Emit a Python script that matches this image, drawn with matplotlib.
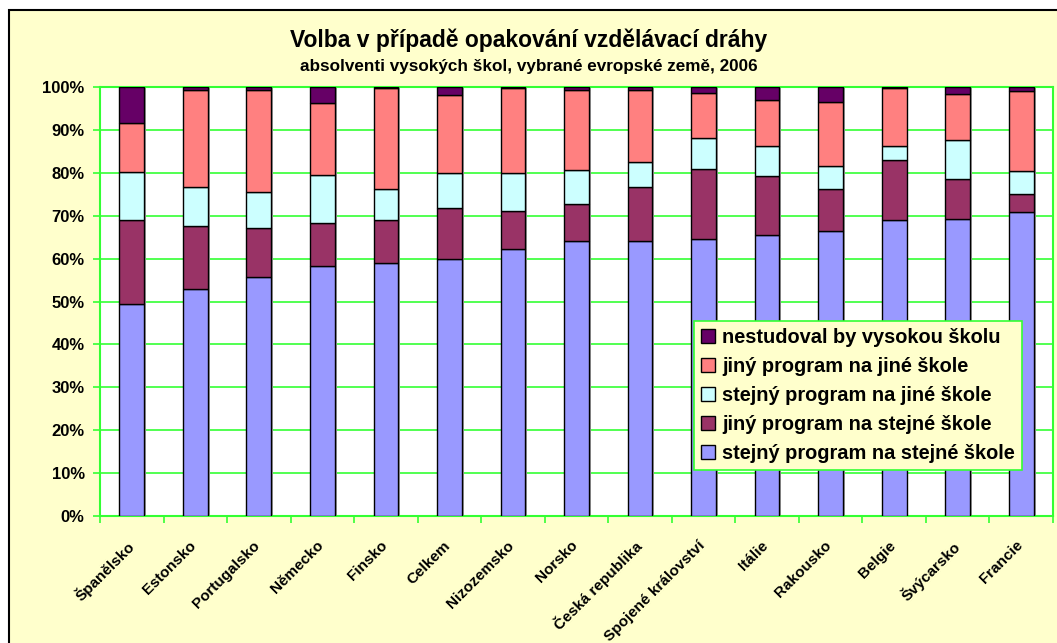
import matplotlib.pyplot as plt
from matplotlib.patches import Rectangle
from matplotlib.transforms import ScaledTranslation
import numpy as np

plt.rcParams['font.family'] = ['Liberation Sans', 'DejaVu Sans']

countries = ['Španělsko', 'Estonsko', 'Portugalsko', 'Německo', 'Finsko', 'Celkem',
             'Nizozemsko', 'Norsko', 'Česká republika', 'Spojené království', 'Itálie',
             'Rakousko', 'Belgie', 'Švýcarsko', 'Francie']

# podily v procentech
stejny_stejna = [49.5, 52.9, 55.6, 58.2, 58.9, 60.0, 62.2, 64.1, 64.2, 64.6, 65.5, 66.4, 69.0, 69.3, 70.9]
jiny_stejna = [19.5, 14.7, 11.5, 10.0, 10.1, 11.7, 8.9, 8.7, 12.6, 16.3, 13.8, 9.9, 14.1, 9.2, 4.1]
stejny_jina = [11.2, 9.2, 8.4, 11.4, 7.3, 8.3, 8.9, 7.8, 5.8, 7.2, 6.9, 5.3, 3.2, 9.2, 5.4]
jiny_jina = [11.4, 22.5, 23.7, 16.6, 23.4, 18.1, 19.7, 18.6, 16.8, 10.6, 10.7, 14.8, 13.5, 10.7, 18.6]
nestudoval = [8.4, 0.7, 0.8, 3.8, 0.3, 1.9, 0.3, 0.8, 0.6, 1.3, 3.1, 3.6, 0.2, 1.6, 1.0]

series = [
    ('stejný program na stejné škole', stejny_stejna, '#9999FF'),
    ('jiný program na stejné škole', jiny_stejna, '#993366'),
    ('stejný program na jiné škole', stejny_jina, '#CCFFFF'),
    ('jiný program na jiné škole', jiny_jina, '#FF8080'),
    ('nestudoval by vysokou školu', nestudoval, '#660066'),
]

fig = plt.figure(figsize=(10.57, 6.43), dpi=100)
fig.patch.set_facecolor('white')
fig.patches.append(Rectangle((9 / 1057, -0.1), 1.2, 1 - 10 / 643 + 0.1, transform=fig.transFigure,
                             facecolor='#FFFFCC', edgecolor='black', linewidth=1.5, zorder=-10))

ax = fig.add_axes([100 / 1057, 1 - 516 / 643, 953 / 1057, 429 / 643])
ax.set_zorder(1)
ax.set_facecolor('white')

x = np.arange(len(countries))
bottom = np.zeros(len(countries))
handles = []
for label, vals, color in series:
    vals = np.array(vals)
    # stin vpravo od sloupce
    ax.bar(x + 0.03, vals, 0.39, bottom=bottom, color='#A0A0A0', linewidth=0, zorder=2)
    b = ax.bar(x, vals, 0.39, bottom=bottom, color=color, edgecolor='black', linewidth=1.0,
               label=label, zorder=3)
    handles.append(b)
    bottom += vals

ax.set_xlim(-0.5, len(countries) - 0.5)
ax.set_ylim(0, 100)
ax.set_yticks(range(0, 101, 10))
ax.set_yticklabels([f'{v}%' for v in range(0, 101, 10)], fontsize=12, fontweight='bold')
ax.yaxis.grid(True, color='#33FF33', linewidth=1.2, zorder=1)
ax.set_axisbelow(True)

ax.set_xticks(x)
ax.set_xticklabels(countries, rotation=45, ha='right', va='top', rotation_mode='anchor',
                   fontsize=11, fontweight='bold')
ax.tick_params(axis='x', length=0, pad=16)
shift = ScaledTranslation(-6 / 100, 0, fig.dpi_scale_trans)
for t in ax.get_xticklabels():
    t.set_transform(t.get_transform() + shift)
ax.set_xticks(np.arange(-0.5, len(countries)), minor=True)
ax.tick_params(axis='x', which='minor', length=5, color='#33FF33', width=1.2)
ax.tick_params(axis='y', length=5, color='#33FF33', width=1.2, pad=6)
for s in ax.spines.values():
    s.set_color('#33FF33')
    s.set_linewidth(1.5)

fig.text(0.5, 1 - 40 / 643, 'Volba v případě opakování vzdělávací dráhy', ha='center', va='center',
         fontsize=16.5, fontweight='bold')
fig.text(0.5, 1 - 67 / 643, 'absolventi vysokých škol, vybrané evropské země, 2006', ha='center',
         va='center', fontsize=12.3, fontweight='bold')

leg = ax.legend(handles=handles[::-1], loc='upper left',
                bbox_to_anchor=((694 - 100) / 953, (516 - 321) / 429),
                fontsize=14.4, frameon=True, fancybox=False, handlelength=0.7, handleheight=0.7,
                handletextpad=0.35, labelspacing=0.5, borderpad=0.35, borderaxespad=0)
leg.get_frame().set_facecolor('#FFFFCC')
leg.get_frame().set_edgecolor('#33FF33')
leg.get_frame().set_linewidth(1.2)
leg.get_frame().set_alpha(1)
for t in leg.get_texts():
    t.set_fontweight('bold')
leg.set_zorder(5)

fig.savefig('out.png', dpi=100, facecolor=fig.get_facecolor())
